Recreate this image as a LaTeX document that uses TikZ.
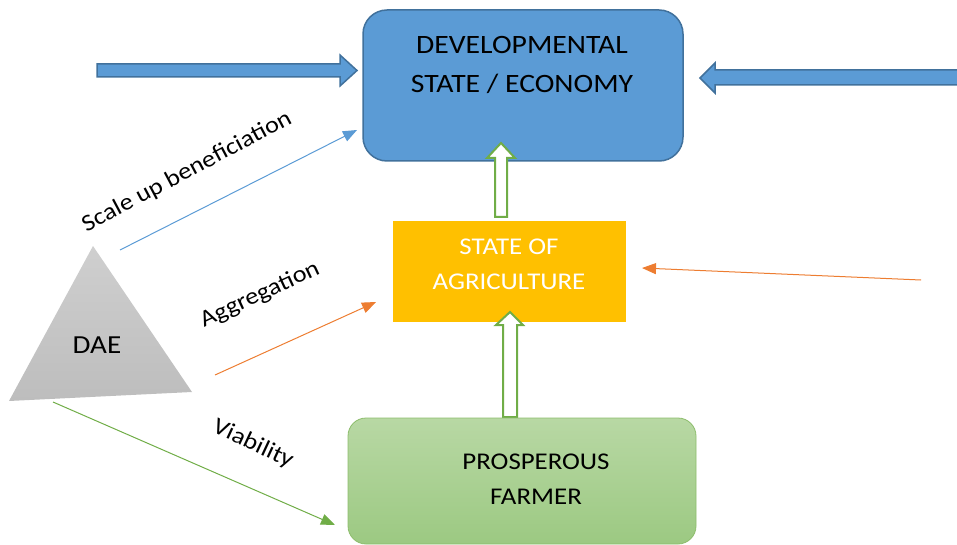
\documentclass[tikz,border=0pt]{standalone}
\usepackage{fontspec}
\setmainfont[FakeStretch=1.12]{Carlito}
\usetikzlibrary{arrows.meta,shapes.geometric}
\definecolor{boxblue}{HTML}{5B9BD5}
\definecolor{boxblueline}{HTML}{41719C}
\definecolor{agriyellow}{HTML}{FFC000}
\definecolor{farmgreen}{HTML}{70AD47}
\definecolor{farmtop}{HTML}{B8D8A4}
\definecolor{farmbot}{HTML}{9CC982}
\definecolor{arrorange}{HTML}{ED7D31}
\definecolor{tritop}{HTML}{CFCFCF}
\definecolor{tribot}{HTML}{BDBDBD}
\tikzset{
  lbl/.style={font=\fontsize{23.5}{28}\selectfont, inner sep=0pt},
  boxtxt/.style={font=\fontsize{24}{35}\selectfont, align=center, inner sep=0pt},
  blockarrow/.style={fill=boxblue, draw=boxblueline, line width=1.5pt, line join=miter},
  hollowarrow/.style={fill=white, draw=farmgreen, line width=2pt, line join=miter},
  thinarrow/.style={line width=1pt, -{Triangle[length=14pt,width=11pt]}},
}
\begin{document}
\begin{tikzpicture}[x=1pt,y=-1pt]
\useasboundingbox (0,0) rectangle (957,545);
% top box
\draw[fill=boxblue, draw=boxblueline, line width=1.5pt, rounded corners=24pt]
  (363,10) rectangle (683,161);
\node[boxtxt, text=black, font=\fontsize{26.5}{39}\selectfont] (dev) at (522,65) {DEVELOPMENTAL\\STATE / ECONOMY};
% block arrows
\draw[blockarrow] (97,64) -- (340,64) -- (340,55) -- (357,70.5) -- (340,86) -- (340,77) -- (97,77) -- cycle;
\draw[blockarrow] (962,70) -- (715,70) -- (715,63) -- (700,78) -- (715,93) -- (715,85) -- (962,85) -- cycle;
% agriculture
\fill[agriyellow] (393,221) rectangle (626,322);
\node[boxtxt, text=white] (agri) at (509,264) {STATE OF\\AGRICULTURE};
% hollow arrows
\draw[hollowarrow] (495,217) -- (495,158) -- (487,158) -- (501,143) -- (515,158) -- (507,158) -- (507,217) -- cycle;
\draw[hollowarrow] (503,417) -- (503,325) -- (496,325) -- (510,312) -- (523,325) -- (517,325) -- (517,417) -- cycle;
% farmer
\shade[top color=farmtop, bottom color=farmbot, draw=farmgreen!80, line width=0.8pt, rounded corners=18pt]
  (348,418) rectangle (696,544);
\node[boxtxt, text=black] (farm) at (536,479) {PROSPEROUS\\FARMER};
% triangle
\shade[top color=tritop, bottom color=tribot] (93,246) -- (192,392) -- (9,401) -- cycle;
\node[font=\fontsize{26}{30}\selectfont] (dae) at (97,345) {DAE};
% thin arrows
\coordinate (b0) at (120,250); \coordinate (b1) at (357,130);
\coordinate (o0) at (215,375); \coordinate (o1) at (376,302);
\coordinate (r0) at (921,280); \coordinate (r1) at (642,268);
\coordinate (g0) at (53,402); \coordinate (g1) at (335,525);
\draw[thinarrow, boxblue] (b0) -- (b1);
\draw[thinarrow, arrorange] (o0) -- (o1);
\draw[thinarrow, arrorange] (r0) -- (r1);
\draw[thinarrow, farmgreen] (g0) -- (g1);
% labels
\node[lbl, rotate=28] (l1) at (187,172) {Scale up beneficiation};
\node[lbl, rotate=25] (l2) at (260,295) {Aggregation};
\node[lbl, rotate=-25] (l3) at (253,444) {Viability};
\end{tikzpicture}
\end{document}
